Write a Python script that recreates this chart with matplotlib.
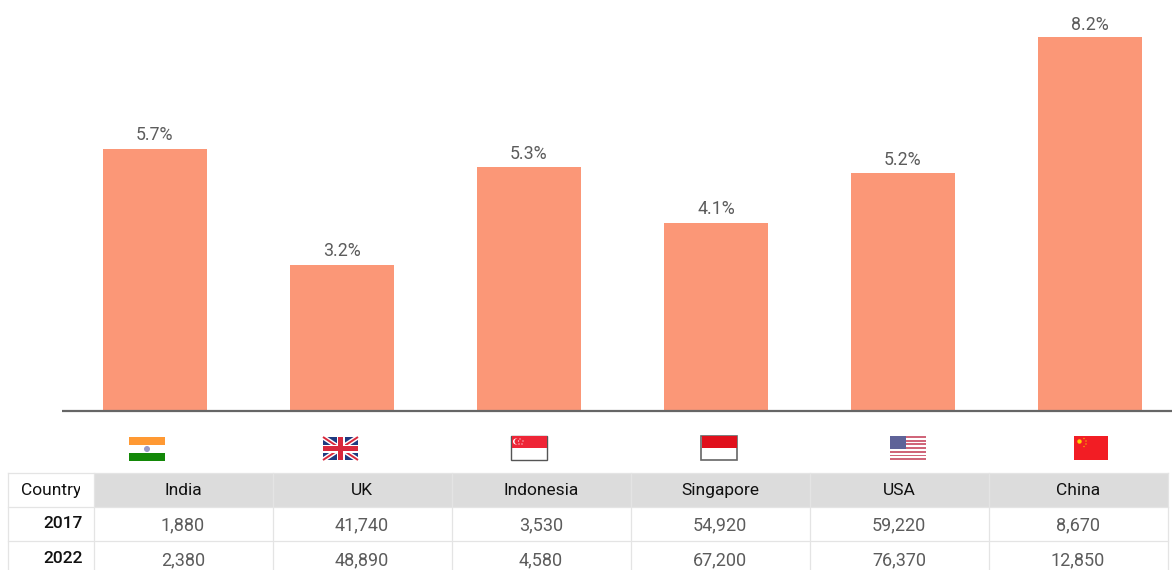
import matplotlib
matplotlib.use("Agg")
import matplotlib.pyplot as plt
from matplotlib.patches import Rectangle, Circle

plt.rcParams["font.family"] = ["Roboto", "DejaVu Sans"]

# -------------------------
# Data
# -------------------------
countries = ["India", "UK", "Indonesia", "Singapore", "USA", "China"]
growth = [5.75, 3.2, 5.36, 4.13, 5.23, 8.2]
growth_labels = ["5.7%", "3.2%", "5.3%", "4.1%", "5.2%", "8.2%"]
values_2017 = ["1,880", "41,740", "3,530", "54,920", "59,220", "8,670"]
values_2022 = ["2,380", "48,890", "4,580", "67,200", "76,370", "12,850"]

BAR_COLOR = "#FB9777"
GREY_TEXT = "#5c5c5c"
DARK_TEXT = "#111111"
GRID = "#e4e4e4"

fig = plt.figure(figsize=(11.72, 5.70), dpi=100)

# -------------------------
# Bars
# -------------------------
ax = fig.add_axes([62 / 1172, 1 - 411 / 570, 1110 / 1172, 411 / 570])
ax.bar(range(6), growth, width=0.556, color=BAR_COLOR)
label_pad = [3.6, 3.6, 2.4, 3.2, 2.4, 2.4]
for i, label in enumerate(growth_labels):
    ax.annotate(label, (i, growth[i]), xytext=(0, label_pad[i]), textcoords="offset points",
                ha="center", va="bottom", fontsize=12.8, color=GREY_TEXT)
ax.set_xlim(-0.497, 5.439)
ax.set_ylim(0, 411 / 45.6)
ax.set_yticks([])
ax.set_xticks([])
for side in ["top", "left", "right"]:
    ax.spines[side].set_visible(False)
ax.spines["bottom"].set_color("#666666")
ax.spines["bottom"].set_linewidth(1.6)
ax.spines["bottom"].set_capstyle("butt")

# -------------------------
# Overlay in pixel coordinates for flags and table
# -------------------------
ov = fig.add_axes([0, 0, 1, 1], facecolor="none")
ov.set_xlim(0, 1172)
ov.set_ylim(570, 0)
ov.axis("off")


def rect(x0, y0, x1, y1, color, z=2):
    ov.add_patch(Rectangle((x0, y0), x1 - x0, y1 - y0, facecolor=color, edgecolor="none", zorder=z))


# India
rect(129, 437, 165, 445, "#FF9933")
rect(129, 453, 165, 461, "#138808")
ov.add_patch(Circle((147, 449), 3, facecolor="#9a9ac8", edgecolor="none", zorder=3))

# UK
rect(323, 437, 358, 460, "#1f3a80")
ov.plot([323, 358], [437, 460], color="white", lw=3.5, zorder=3, solid_capstyle="butt")
ov.plot([323, 358], [460, 437], color="white", lw=3.5, zorder=3, solid_capstyle="butt")
ov.plot([323, 358], [437, 460], color="#d8283c", lw=1.4, zorder=4, solid_capstyle="butt")
ov.plot([323, 358], [460, 437], color="#d8283c", lw=1.4, zorder=4, solid_capstyle="butt")
rect(336.5, 437, 344.5, 460, "white", 5)
rect(323, 444.5, 358, 452.5, "white", 5)
rect(338, 437, 343, 460, "#d8283c", 6)
rect(323, 446, 358, 451, "#d8283c", 6)

# Singapore
ov.add_patch(Rectangle((511, 435.5), 36, 24, facecolor="white", edgecolor="#555555", lw=1, zorder=2))
rect(511.5, 436, 546.5, 447.5, "#EE2536", 3)
ov.add_patch(Circle((516, 441.5), 3, facecolor="white", edgecolor="none", zorder=4))
ov.add_patch(Circle((517.5, 441.5), 3, facecolor="#EE2536", edgecolor="none", zorder=5))
for dx, dy in [(520, 439), (523, 441), (522, 444), (519, 444), (518.5, 441)]:
    ov.add_patch(Circle((dx, dy), 0.6, facecolor="white", edgecolor="none", zorder=6))

# Indonesia
ov.add_patch(Rectangle((701, 435.5), 36, 24, facecolor="white", edgecolor="#666666", lw=1.2, zorder=2))
rect(701.5, 436, 736.5, 447.5, "#E0101C", 3)

# USA
rect(890, 436, 926, 460, "white")
for k in range(7):
    rect(890, 436 + k * 3.7, 926, 436 + k * 3.7 + 1.85, "#d0667a", 3)
rect(890, 436, 906, 449, "#5f6398", 4)

# China
rect(1074, 436, 1108, 460, "#F21D24")
ov.add_patch(Circle((1079.5, 441.5), 2.2, facecolor="#FFD200", edgecolor="none", zorder=3))
for dx, dy in [(1084, 438.5), (1086, 441), (1086, 444), (1084, 446.5)]:
    ov.add_patch(Circle((dx, dy), 0.7, facecolor="#F5B800", edgecolor="none", zorder=3))

# -------------------------
# Table
# -------------------------
col_x = [7.5, 94, 273, 452, 631, 810, 989, 1168]
row_y = [472.5, 506.5, 540.5, 571]

rect(col_x[1], row_y[0], col_x[-1], row_y[1], "#DCDCDC", 1)
for x in col_x:
    ov.plot([x, x], [row_y[0], row_y[-1]], color=GRID, lw=0.9, zorder=1.5)
for y in row_y[:-1]:
    ov.plot([col_x[0], col_x[-1]], [y, y], color=GRID, lw=0.9, zorder=1.5)

# the y of Country is cut off by the cell in the original
header_txt = ov.text(51.5, 495, "Country", ha="center", va="baseline", fontsize=12.5,
                     color=DARK_TEXT, clip_on=True)
header_txt.set_clip_path(Rectangle((7.5, 472.5), 72.5, 34, transform=ov.transData))
ov.text(83, 528, "2017", ha="right", va="baseline", fontsize=12.5, color=DARK_TEXT, fontweight="medium")
ov.text(83, 563, "2022", ha="right", va="baseline", fontsize=12.5, color=DARK_TEXT, fontweight="medium")

for i in range(6):
    xc = (col_x[i + 1] + col_x[i + 2]) / 2 - 0.5
    ov.text(xc, 495, countries[i], ha="center", va="baseline", fontsize=12.5, color=DARK_TEXT)
    ov.text(xc, 530, values_2017[i], ha="center", va="baseline", fontsize=13, color=GREY_TEXT)
    ov.text(xc, 565, values_2022[i], ha="center", va="baseline", fontsize=13, color=GREY_TEXT)

plt.savefig("out.png", dpi=100)
